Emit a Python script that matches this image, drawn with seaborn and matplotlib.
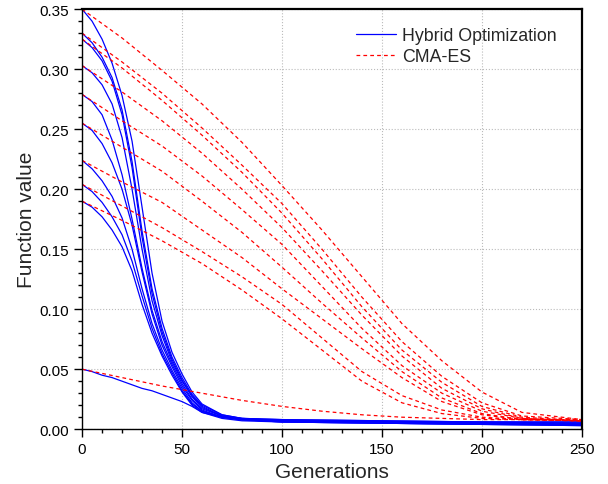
import pandas as pd
import matplotlib.pyplot as plt
import seaborn as sns
from matplotlib.lines import Line2D
from matplotlib.ticker import MultipleLocator

# generations
gen_hybrid = [0, 5, 10, 15, 20, 25, 30, 35, 40, 45, 50, 55, 60, 70, 80, 100, 150, 200, 250]
gen_cma = [0, 20, 40, 60, 80, 100, 120, 140, 160, 180, 200, 220, 250]

# Hybrid Optimization runs (solid blue)
hybrid_1 = [0.350, 0.340, 0.325, 0.305, 0.278, 0.240, 0.185, 0.130, 0.090, 0.064, 0.046, 0.031, 0.021, 0.012, 0.009, 0.008, 0.007, 0.006, 0.006]
hybrid_2 = [0.330, 0.322, 0.310, 0.293, 0.266, 0.223, 0.165, 0.117, 0.084, 0.060, 0.043, 0.029, 0.020, 0.012, 0.009, 0.008, 0.007, 0.006, 0.006]
hybrid_3 = [0.325, 0.318, 0.307, 0.290, 0.262, 0.218, 0.160, 0.113, 0.081, 0.058, 0.041, 0.028, 0.019, 0.011, 0.009, 0.007, 0.006, 0.006, 0.005]
hybrid_4 = [0.303, 0.297, 0.287, 0.271, 0.243, 0.200, 0.150, 0.107, 0.078, 0.056, 0.040, 0.027, 0.018, 0.011, 0.008, 0.007, 0.006, 0.005, 0.005]
hybrid_5 = [0.279, 0.273, 0.262, 0.241, 0.212, 0.175, 0.134, 0.099, 0.073, 0.054, 0.038, 0.025, 0.017, 0.011, 0.008, 0.007, 0.006, 0.005, 0.004]
hybrid_6 = [0.255, 0.249, 0.238, 0.222, 0.200, 0.170, 0.131, 0.096, 0.070, 0.052, 0.036, 0.024, 0.016, 0.010, 0.008, 0.007, 0.006, 0.005, 0.004]
hybrid_7 = [0.224, 0.217, 0.207, 0.194, 0.176, 0.150, 0.117, 0.088, 0.066, 0.049, 0.034, 0.022, 0.015, 0.010, 0.008, 0.006, 0.005, 0.004, 0.004]
hybrid_8 = [0.204, 0.198, 0.189, 0.177, 0.162, 0.140, 0.111, 0.084, 0.063, 0.047, 0.032, 0.021, 0.015, 0.010, 0.008, 0.006, 0.005, 0.004, 0.003]
hybrid_9 = [0.190, 0.185, 0.177, 0.166, 0.152, 0.132, 0.104, 0.080, 0.061, 0.045, 0.031, 0.020, 0.014, 0.009, 0.007, 0.006, 0.005, 0.004, 0.003]
hybrid_10 = [0.050, 0.048, 0.045, 0.043, 0.040, 0.037, 0.034, 0.032, 0.029, 0.026, 0.023, 0.019, 0.014, 0.010, 0.008, 0.007, 0.006, 0.005, 0.004]

# CMA-ES runs (dashed red)
cma_1 = [0.350, 0.326, 0.299, 0.271, 0.239, 0.203, 0.166, 0.127, 0.088, 0.057, 0.031, 0.014, 0.008]
cma_2 = [0.330, 0.306, 0.280, 0.251, 0.220, 0.188, 0.150, 0.110, 0.073, 0.044, 0.022, 0.011, 0.008]
cma_3 = [0.325, 0.301, 0.274, 0.245, 0.214, 0.180, 0.142, 0.102, 0.066, 0.039, 0.019, 0.010, 0.007]
cma_4 = [0.303, 0.281, 0.257, 0.230, 0.200, 0.168, 0.132, 0.095, 0.061, 0.034, 0.017, 0.009, 0.007]
cma_5 = [0.279, 0.257, 0.236, 0.211, 0.183, 0.154, 0.119, 0.084, 0.053, 0.030, 0.015, 0.009, 0.007]
cma_6 = [0.255, 0.235, 0.215, 0.190, 0.164, 0.135, 0.105, 0.076, 0.048, 0.026, 0.013, 0.008, 0.007]
cma_7 = [0.224, 0.206, 0.189, 0.166, 0.143, 0.117, 0.092, 0.067, 0.043, 0.023, 0.012, 0.008, 0.007]
cma_8 = [0.204, 0.186, 0.168, 0.148, 0.127, 0.104, 0.076, 0.048, 0.028, 0.016, 0.010, 0.008, 0.007]
cma_9 = [0.190, 0.174, 0.157, 0.138, 0.116, 0.092, 0.066, 0.040, 0.022, 0.013, 0.009, 0.008, 0.007]
cma_10 = [0.050, 0.043, 0.036, 0.030, 0.024, 0.019, 0.015, 0.012, 0.010, 0.009, 0.008, 0.008, 0.008]

hybrid_runs = [hybrid_1, hybrid_2, hybrid_3, hybrid_4, hybrid_5,
               hybrid_6, hybrid_7, hybrid_8, hybrid_9, hybrid_10]
cma_runs = [cma_1, cma_2, cma_3, cma_4, cma_5, cma_6, cma_7, cma_8, cma_9, cma_10]

# long-form tables
hyb_df = pd.concat([pd.DataFrame({"gen": gen_hybrid, "value": r, "run": i})
                    for i, r in enumerate(hybrid_runs)])
cma_df = pd.concat([pd.DataFrame({"gen": gen_cma, "value": r, "run": i})
                    for i, r in enumerate(cma_runs)])

sns.set_style("white")
plt.rcParams['font.family'] = ['Liberation Sans', 'DejaVu Sans']

fig = plt.figure(figsize=(6.08, 4.85), dpi=100)
ax = fig.add_axes([0.135, 0.113, 0.822, 0.866])

sns.lineplot(data=hyb_df, x="gen", y="value", units="run", estimator=None,
             color="#0000ff", lw=0.9, ax=ax, legend=False)
sns.lineplot(data=cma_df, x="gen", y="value", units="run", estimator=None,
             color="#ff0000", lw=0.9, linestyle=(0, (3, 2.5)), ax=ax, legend=False)

ax.set_xlim(0, 250)
ax.set_ylim(0, 0.35)
ax.xaxis.set_major_locator(MultipleLocator(50))
ax.xaxis.set_minor_locator(MultipleLocator(10))
ax.yaxis.set_major_locator(MultipleLocator(0.05))
ax.yaxis.set_minor_locator(MultipleLocator(0.01))
ax.yaxis.set_major_formatter(plt.FormatStrFormatter("%.2f"))
ax.grid(True, which="major", color="#bbbbbb", linestyle=":", linewidth=0.8)

ax.tick_params(which="both", direction="out", bottom=True, left=True,
               top=False, right=False, labelsize=11, colors="black")
ax.tick_params(which="major", length=6, width=1)
ax.tick_params(which="minor", length=3, width=1)
for s in ax.spines.values():
    s.set_color("black")
    s.set_linewidth(1)
ax.spines["top"].set_linewidth(1.6)
ax.spines["right"].set_linewidth(1.6)

ax.set_xlabel("Generations", fontsize=15, labelpad=4)
ax.set_ylabel("Function value", fontsize=15, labelpad=2)

handles = [Line2D([], [], color="#0000ff", lw=0.9),
           Line2D([], [], color="#ff0000", lw=0.9, linestyle=(0, (3, 2.5)))]
ax.legend(handles, ["Hybrid Optimization", "CMA-ES"], loc="upper right",
          frameon=False, fontsize=12.8, handlelength=2.25, handletextpad=0.3,
          labelspacing=0.25, bbox_to_anchor=(0.963, 0.975), borderaxespad=0)

plt.savefig("out.png", dpi=100)
plt.close()
